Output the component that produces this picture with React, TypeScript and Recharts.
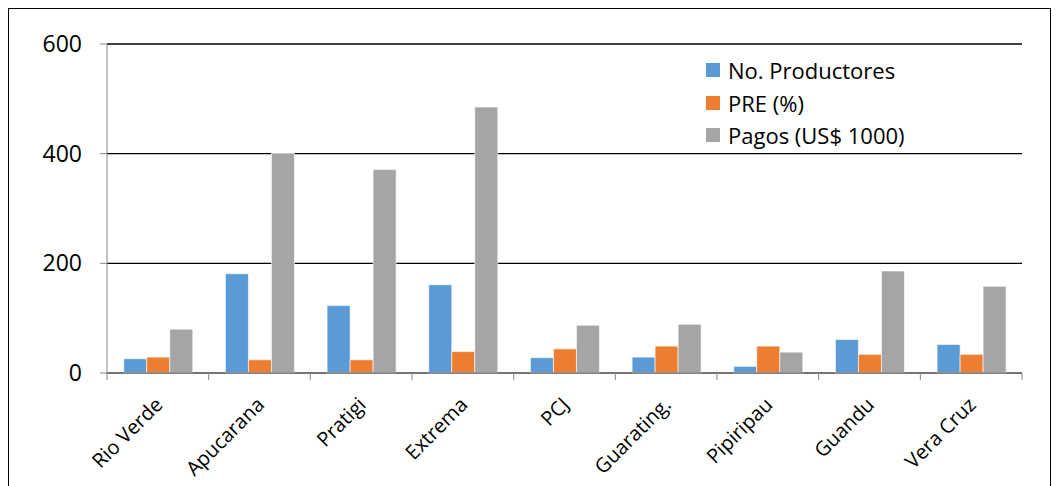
import { BarChart, Bar, XAxis, YAxis, CartesianGrid } from 'recharts';

// ─── Data ─────────────────────────────────────────────────────────────────────

const CATEGORIES = ['Rio Verde', 'Apucarana', 'Pratigi', 'Extrema', 'PCJ', 'Guarating.', 'Pipiripau', 'Guandu', 'Vera Cruz'];
const PRODUCTORES = [26, 181, 123, 161, 28, 29, 12, 61, 52];
const PRE = [29, 24, 24, 39, 44, 49, 49, 34, 34];
const PAGOS = [80, 401, 371, 485, 87, 89, 38, 186, 158];
const Y_TICKS = [0, 200, 400, 600];

const SERIES = [
  { key: 'productores', name: 'No. Productores', color: '#5B9BD5' },
  { key: 'pre', name: 'PRE (%)', color: '#ED7D31' },
  { key: 'pagos', name: 'Pagos (US$ 1000)', color: '#A5A5A5' },
];

const data = CATEGORIES.map((c, i) => ({
  name: c,
  productores: PRODUCTORES[i],
  pre: PRE[i],
  pagos: PAGOS[i],
}));

// ─── Layout ───────────────────────────────────────────────────────────────────

const CHART_W = 1041;
const CHART_H = 478;
const MARGIN = { top: 35, right: 28, left: 0, bottom: 14 };
const Y_AXIS_W = 98;
const PLOT_W = CHART_W - MARGIN.left - MARGIN.right - Y_AXIS_W;
const BAND = PLOT_W / CATEGORIES.length;
const FONT = '"Open Sans", "Noto Sans", sans-serif';

// category ticks: Excel-style boundary marks + rotated label
function CategoryTick(props: any) {
  const { x, y, payload, index } = props;
  const left = x - BAND / 2;
  const right = x + BAND / 2;
  const ax = x + 6;
  const ay = y + 25;
  return (
    <g>
      <line x1={left} y1={y - 8} x2={left} y2={y - 1} stroke="#868686" strokeWidth={1} />
      {index === CATEGORIES.length - 1 && (
        <line x1={right} y1={y - 8} x2={right} y2={y - 1} stroke="#868686" strokeWidth={1} />
      )}
      <text
        x={ax}
        y={ay}
        textAnchor="end"
        transform={`rotate(-45, ${ax}, ${ay})`}
        fontSize={20}
        fontFamily={FONT}
        fill="#000"
      >
        {payload.value}
      </text>
    </g>
  );
}

function LegendBox() {
  return (
    <div
      style={{
        position: 'absolute',
        left: 697,
        top: 45,
        fontFamily: FONT,
        fontSize: 22,
        color: '#000',
        lineHeight: 1,
      }}
    >
      {SERIES.map((s) => (
        <div key={s.key} style={{ display: 'flex', alignItems: 'center', height: 32.5 }}>
          <span style={{ width: 14, height: 14, background: s.color, display: 'inline-block', marginRight: 8 }} />
          <span>{s.name}</span>
        </div>
      ))}
    </div>
  );
}

export default function App() {
  return (
    <div
      style={{
        position: 'relative',
        width: CHART_W,
        height: 500,
        border: '1px solid #000',
        overflow: 'hidden',
        background: '#fff',
      }}
    >
      <BarChart
        width={CHART_W}
        height={CHART_H}
        data={data}
        margin={MARGIN}
        barGap={0}
        barCategoryGap="16.5%"
      >
        <CartesianGrid stroke="#000" strokeWidth={1.3} vertical={false} />
        <XAxis
          dataKey="name"
          interval={0}
          height={100}
          axisLine={{ stroke: '#868686', strokeWidth: 1.3 }}
          tickLine={false}
          tick={<CategoryTick />}
        />
        <YAxis
          domain={[0, 600]}
          ticks={Y_TICKS}
          width={Y_AXIS_W}
          axisLine={{ stroke: '#868686' }}
          tickLine={{ stroke: '#868686' }}
          tickSize={7}
          tickMargin={18}
          tick={{ fontSize: 23, fill: '#000', fontFamily: FONT }}
        />
        {SERIES.map((s) => (
          <Bar
            key={s.key}
            dataKey={s.key}
            name={s.name}
            fill={s.color}
            stroke="#ffffff"
            strokeWidth={0.6}
            isAnimationActive={false}
          />
        ))}
      </BarChart>
      <LegendBox />
    </div>
  );
}
